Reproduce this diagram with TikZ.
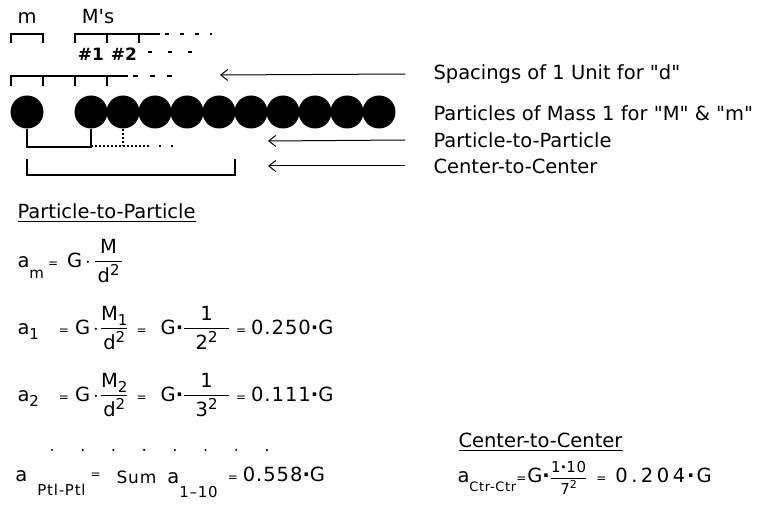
\documentclass[tikz,border=0pt]{standalone}
\usepackage{fontspec}
\setmainfont{DejaVu Sans}
\usepackage{amsmath}
\usetikzlibrary{arrows.meta,calc,positioning}
\tikzset{every picture/.style={line width=1pt}}
\newcommand\subsz{\fontsize{15}{15}\selectfont}
\newcommand\lo[2][5pt]{\raisebox{-#1}{\subsz #2}}
\newcommand\hi[2][7pt]{\raisebox{#1}{\subsz #2}}
\newcommand\eq{{\fontsize{12}{12}\selectfont=}}
\newcommand\bdot{{\bfseries ·}}
\newcommand\fr[2]{$\dfrac{\text{#1}}{\text{#2}}$}

\begin{document}
\begin{tikzpicture}[x=1pt,y=-1pt,
    every node/.style={inner sep=0pt,font=\fontsize{19.5}{22}\selectfont},
    ball/.style={circle,fill,minimum size=33pt},
    tick/.style={line width=1.2pt},
    brk/.style={line width=2pt},
    larr/.style={-{Straight Barb[length=7pt,width=11pt]}},
    lbl/.style={anchor=west},
    fml/.style={anchor=west,font=\fontsize{19.5}{22}\selectfont\addfontfeature{LetterSpace=5}}]
    \useasboundingbox (0,0) rectangle (761,508);

    % 粒子
    \node[ball] (p0) at (27,112) {};
    \foreach \i in {1,...,10}
        \node[ball] (p\i) at ({59+32*\i},112) {};
    \coordinate (mid) at ($(p1)!.5!(p10)$);

    % 上方标注
    \node (m) at (27,18) {m};
    \node (Ms) at (98,17) {M\textquotesingle s};
    \draw[tick] (11,43) |- (43,34) -- (43,43);
    \draw[tick] (75,43) |- (160,34);
    \draw[tick] (107,34) -- (107,43);
    \draw[tick] (139,34) -- (139,43);
    \draw[tick, dash pattern=on 4pt off 11pt] (165,34) -- (212,34);
    \node[font=\fontsize{17}{20}\selectfont\bfseries] (n1) at (91,54) {\#1};
    \node[font=\fontsize{17}{20}\selectfont\bfseries] (n2) at (124,54) {\#2};
    \draw[tick, dash pattern=on 4pt off 16pt] (148,52) -- (195,52);

    % 单位间距
    \draw[tick] (11,86) |- (128,76);
    \foreach \x in {43,75,107}
        \draw[tick] (\x,76) -- (\x,86);
    \draw[tick, dash pattern=on 5pt off 12pt] (133,76) -- (180,76);

    % 右侧说明
    \node[lbl] (spc) at (433,74) {Spacings of 1 Unit for \textquotedbl d\textquotedbl};
    \node[lbl] (mass) at (433,113) {Particles of Mass 1 for \textquotedbl M\textquotedbl{} \& \textquotedbl m\textquotedbl};
    \node[lbl] (ptp) at (433,140) {Particle-to-Particle};
    \node[lbl] (ctc) at (433,166) {Center-to-Center};
    \coordinate (spcTip) at (220,75);
    \coordinate (ptpTip) at (268,141);
    \coordinate (ctcTip) at (268,166);
    \draw[larr] (spc.west) ++(-28,0) -- (spcTip);
    \draw[larr] (ptp.west) ++(-28,0) -- (ptpTip);
    \draw[larr] (ctc.west) ++(-28,0) -- (ctcTip);

    % 距离括号
    \draw[brk] (p0.south) -- ++(0,18) -| (p1.south);
    \draw[brk, dotted] (91,146) -- (150,146);
    \draw[brk, dotted] (p2.south) -- (123,146);
    \draw[brk, dash pattern=on 2pt off 10pt] (159,146) -- (176,146);
    \draw[brk] (27,159) |- (mid |- 0,175) -- (mid |- 0,159);

    % 公式
    \node[lbl] (hptp) at (17,213) {\underline{Particle-to-Particle}};
    \node[fml] (am) at (17,261) {a\lo[11pt]{m}\hspace{4pt}\eq\hspace{9pt}G\hspace{3pt}$\cdot$\hspace{3pt}\fr{\hspace{5pt}M\hspace{5pt}}{d\hi{2}}};
    \node[fml] (a1) at (17,328) {a\lo{1}\hspace{20pt}\eq\hspace{6pt}G\hspace{3pt}$\cdot$\hspace{1pt}\fr{M\lo{1}}{d\hi{2}}\hspace{8pt}\eq\hspace{14pt}G\bdot\fr{\hspace{16pt}1\hspace{16pt}}{2\hi{2}}\hspace{6pt}\eq\hspace{5pt}0.250\bdot G};
    \node[fml] (a2) at (17,395) {a\lo{2}\hspace{20pt}\eq\hspace{6pt}G\hspace{3pt}$\cdot$\hspace{1pt}\fr{M\lo{2}}{d\hi{2}}\hspace{8pt}\eq\hspace{14pt}G\bdot\fr{\hspace{16pt}1\hspace{16pt}}{3\hi{2}}\hspace{6pt}\eq\hspace{5pt}0.111\bdot G};
    \foreach \i in {0,...,7}
        \fill ({52+30.7*\i},450) circle (1.2pt);
    \node[fml, anchor=base west] (aptl) at (15,481) {a\hspace{10pt}\lo[14pt]{Ptl-Ptl}\hspace{5pt}\raisebox{3pt}{\eq}\hspace{16pt}\raisebox{-2pt}{\fontsize{17}{17}\selectfont Sum}\hspace{11pt}\raisebox{-2pt}{a\lo[14pt]{1–10}}\hspace{10pt}\eq\hspace{5pt}0.558\bdot G};

    \node[lbl] (hctc) at (458,442) {\underline{Center-to-Center}};
    \node[fml] (actc) at (457,478) {a\lo[9pt]{\fontsize{13}{13}\selectfont Ctr-Ctr}\eq\hspace{1pt}G\bdot{\fontsize{15}{15}\selectfont\fr{1\bdot 10}{7\raisebox{6pt}{\fontsize{11}{11}\selectfont 2}}}\hspace{9pt}\eq\hspace{9pt}{\addfontfeature{LetterSpace=18}0.204\hspace{2pt}\bdot\hspace{2pt}G}};
\end{tikzpicture}
\end{document}
